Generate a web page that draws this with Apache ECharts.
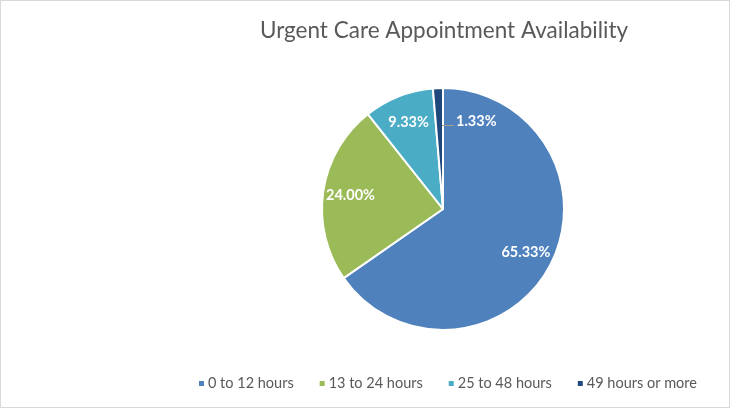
<!DOCTYPE html>
<html lang="en">
<head>
    <meta charset="UTF-8">
    <title>Urgent Care Appointment Availability</title>
    <style>
        html, body { margin: 0; padding: 0; background: #fff; }
        #main { width: 728px; height: 406px; border: 1px solid #d9d9d9; }
    </style>
</head>
<body>
<div id="main"></div>
<script src="https://cdn.jsdelivr.net/npm/echarts@6/dist/echarts.min.js"></script>
<script>
    // data (75 answers in total)
    var categories = ['0 to 12 hours', '13 to 24 hours', '25 to 48 hours', '49 hours or more'];
    var counts = [49, 18, 7, 1];
    var colors = ['#4f81bd', '#9bbb59', '#4bacc6', '#1f497d'];

    var total = counts.reduce(function (a, b) { return a + b; }, 0);
    var font = 'Lato, "Open Sans", sans-serif';
    function pct(v) {
        return (v / total * 100).toFixed(2) + '%';
    }
    var labelText = {
        color: '#fff',
        fontSize: 14.5,
        fontWeight: 'bold',
        fontFamily: font
    };

    // the thin last slice keeps its label outside, pulled aside with a small leader
    var pieData = categories.map(function (name, i) {
        var item = { name: name, value: counts[i], itemStyle: { color: colors[i] } };
        if (i === 3) {
            item.label = {
                show: true,
                position: 'outside',
                formatter: function (p) { return '{ln|}{v|' + pct(p.value) + '}'; },
                rich: {
                    ln: { width: 12, height: 1, backgroundColor: '#a59c8e', verticalAlign: 'bottom' },
                    v: Object.assign({ lineHeight: 10, padding: [0, 0, 0, 2] }, labelText)
                }
            };
        }
        return item;
    });

    var myChart = echarts.init(document.getElementById('main'));
    var option = {
        animation: false,
        title: {
            text: 'Urgent Care Appointment Availability',
            left: 438,
            textAlign: 'center',
            top: 13,
            textStyle: { color: '#595959', fontSize: 22.5, fontWeight: 'normal', fontFamily: font }
        },
        legend: {
            data: categories,
            top: 370,
            left: 191,
            itemWidth: 7,
            itemHeight: 7,
            itemGap: 24,
            icon: 'rect',
            textStyle: { color: '#595959', fontSize: 14.5, fontFamily: font, padding: [0, 0, 0, -2] }
        },
        series: [
            {
                name: 'Availability',
                type: 'pie',
                center: [442, 208],
                radius: 121,
                startAngle: 90,
                label: { show: false },
                labelLine: { show: false },
                labelLayout: function (p) {
                    if (p.dataIndex === 3) {
                        return {
                            x: p.rect.x + p.rect.width - 2,
                            y: p.rect.y + 34,
                            align: 'left',
                            verticalAlign: 'middle'
                        };
                    }
                    return {};
                },
                itemStyle: { borderColor: '#fff', borderWidth: 2 },
                emphasis: { disabled: true },
                data: pieData
            },
            {
                // transparent ring only used to place the inside percent labels
                name: 'labels',
                type: 'pie',
                center: [442, 208],
                radius: [60, 121],
                startAngle: 90,
                silent: true,
                itemStyle: { color: 'rgba(0,0,0,0)' },
                label: Object.assign({
                    show: true,
                    position: 'inside',
                    formatter: function (p) { return pct(p.value); }
                }, labelText),
                labelLine: { show: false },
                emphasis: { disabled: true },
                data: categories.map(function (name, i) {
                    var item = { name: name, value: counts[i] };
                    if (i === 3) {
                        item.label = { show: false };
                    }
                    return item;
                })
            }
        ]
    };
    option && myChart.setOption(option);
</script>
</body>
</html>
